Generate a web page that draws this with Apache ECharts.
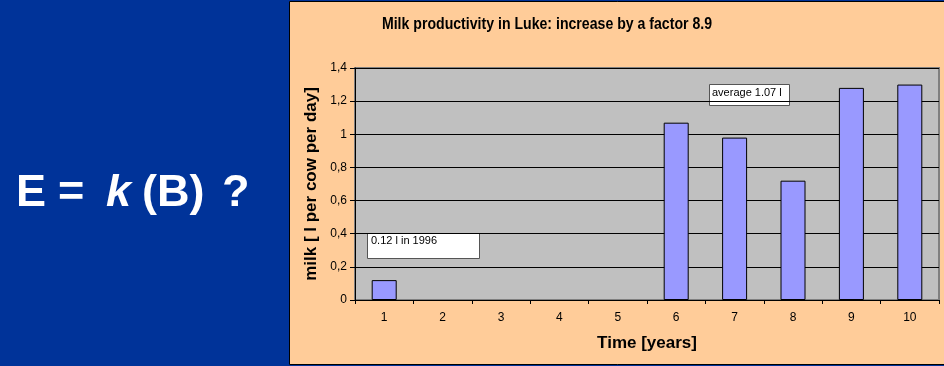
<!DOCTYPE html>
<html>
<head>
<meta charset="utf-8">
<script src="https://cdn.jsdelivr.net/npm/echarts@6/dist/echarts.min.js"></script>
<style>
  html, body { margin: 0; padding: 0; background: #003399; }
  #chart { width: 944px; height: 366px; }
</style>
</head>
<body>
<div id="chart"></div>
<script>
// Years since start of the programme (category axis)
const years = ['1', '2', '3', '4', '5', '6', '7', '8', '9', '10'];
// Milk per cow per day, litres (no records for years 2-5)
const milk = [0.12, null, null, null, null, 1.07, 0.98, 0.72, 1.28, 1.30];
// Value-axis tick labels (decimal comma)
const yTickLabels = ['0', '0,2', '0,4', '0,6', '0,8', '1', '1,2', '1,4'];

const FONT = '"Liberation Sans", Arial, sans-serif';

const chart = echarts.init(document.getElementById('chart'), null, { renderer: 'canvas' });

chart.setOption({
  backgroundColor: '#003399',
  animation: false,
  textStyle: { fontFamily: FONT },
  grid: {
    left: 355, right: 5, top: 68, bottom: 66,
    show: true,
    backgroundColor: '#C0C0C0',
    borderColor: '#808080',
    borderWidth: 2
  },
  xAxis: {
    type: 'category',
    data: years,
    name: 'Time [years]',
    nameLocation: 'middle',
    nameGap: 35,
    nameTextStyle: { fontFamily: FONT, fontSize: 17, fontWeight: 'bold', color: '#000' },
    axisLine: { lineStyle: { color: '#000', width: 1 } },
    axisTick: { show: true, length: 4, lineStyle: { color: '#000' } },
    axisLabel: { fontFamily: FONT, fontSize: 12, color: '#000', margin: 12 }
  },
  yAxis: {
    type: 'value',
    min: 0, max: 1.4, interval: 0.2,
    name: 'milk [ l per cow per day]',
    nameLocation: 'middle',
    nameGap: 33,
    nameRotate: 90,
    nameTextStyle: { fontFamily: FONT, fontSize: 17, fontWeight: 'bold', color: '#000' },
    axisLine: { show: true, lineStyle: { color: '#000', width: 1 } },
    axisTick: { show: true, length: 5, lineStyle: { color: '#000' } },
    axisLabel: {
      fontFamily: FONT, fontSize: 12, color: '#000', margin: 8,
      formatter: v => yTickLabels[Math.round(v / 0.2)]
    },
    splitLine: { show: true, lineStyle: { color: '#000', width: 1 } }
  },
  series: [{
    type: 'bar',
    data: milk,
    barWidth: 25,
    itemStyle: { color: '#9999FF', borderColor: '#000', borderWidth: 1 }
  }],
  graphic: [
    // orange chart panel
    {
      type: 'rect', z: -10, silent: true,
      shape: { x: 289.5, y: 1.5, width: 660, height: 363 },
      style: { fill: '#FFCC99', stroke: '#000', lineWidth: 1 }
    },
    // chart heading (condensed bold)
    {
      type: 'text', z: 10, x: 547, y: 24, scaleX: 0.83,
      style: {
        text: 'Milk productivity in Luke: increase by a factor 8.9',
        fill: '#000', font: 'bold 17px ' + FONT,
        textAlign: 'center', textVerticalAlign: 'middle'
      }
    },
    // slide heading on the blue side
    { type: 'text', z: 10, left: 16, top: 171, style: { text: 'E', fill: '#fff', font: 'bold 45px ' + FONT } },
    { type: 'text', z: 10, left: 58, top: 171, style: { text: '=', fill: '#fff', font: 'bold 45px ' + FONT } },
    { type: 'text', z: 10, left: 106, top: 171, style: { text: 'k', fill: '#fff', font: 'italic bold 45px ' + FONT } },
    { type: 'text', z: 10, left: 142, top: 171, style: { text: '(B)', fill: '#fff', font: 'bold 45px ' + FONT } },
    { type: 'text', z: 10, left: 222, top: 171, style: { text: '?', fill: '#fff', font: 'bold 45px ' + FONT } },
    // note boxes
    {
      type: 'group', z: 100,
      children: [
        { type: 'rect', shape: { x: 367.5, y: 233.5, width: 112, height: 25 },
          style: { fill: '#fff', stroke: '#555', lineWidth: 1 } },
        { type: 'text', x: 371, y: 235,
          style: { text: '0.12 l in 1996', fill: '#000', font: '11px ' + FONT } }
      ]
    },
    {
      type: 'group', z: 100,
      children: [
        { type: 'rect', shape: { x: 709.5, y: 84.5, width: 80, height: 21 },
          style: { fill: '#fff', stroke: '#555', lineWidth: 1 } },
        { type: 'text', x: 712, y: 87,
          style: { text: 'average 1.07 l', fill: '#000', font: '11px ' + FONT } }
      ]
    }
  ]
});
</script>
</body>
</html>
